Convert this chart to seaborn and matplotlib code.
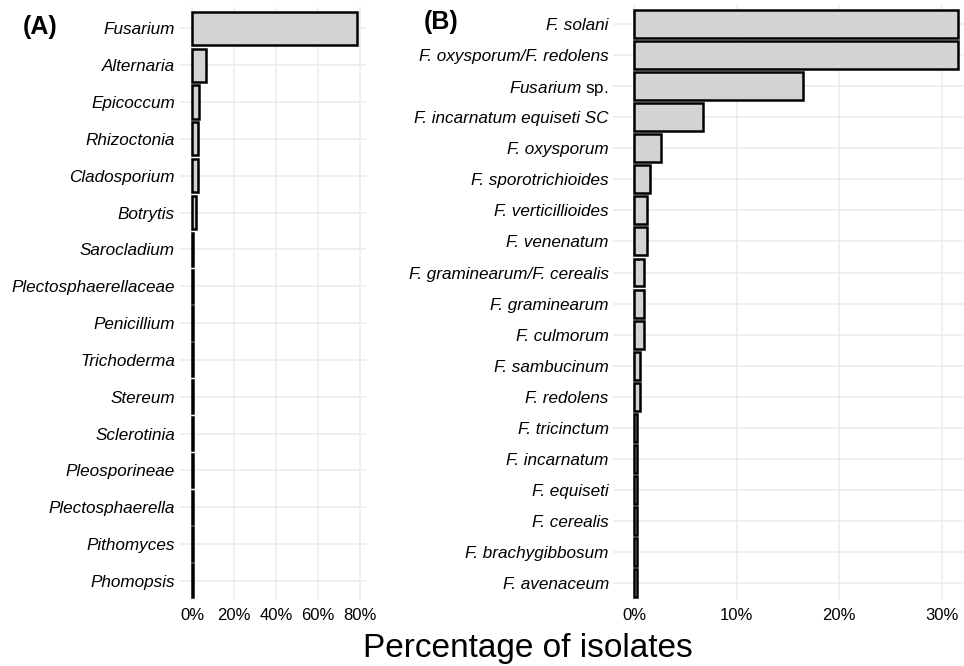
import matplotlib
matplotlib.use("Agg")
import matplotlib.pyplot as plt
import seaborn as sns
import pandas as pd
from matplotlib.ticker import FixedLocator, FixedFormatter

# ---- data ----
genera = ["Fusarium", "Alternaria", "Epicoccum", "Rhizoctonia", "Cladosporium",
          "Botrytis", "Sarocladium", "Plectosphaerellaceae", "Penicillium",
          "Trichoderma", "Stereum", "Sclerotinia", "Pleosporineae",
          "Plectosphaerella", "Pithomyces", "Phomopsis"]
genera_pct = [78.6, 6.7, 3.2, 3.0, 3.0, 1.8, 0.37, 0.37, 0.37, 0.37,
              0.37, 0.37, 0.37, 0.37, 0.37, 0.37]

species = ["F. solani", "F. oxysporum/F. redolens", "Fusarium sp.",
           "F. incarnatum equiseti SC", "F. oxysporum", "F. sporotrichioides",
           "F. verticillioides", "F. venenatum", "F. graminearum/F. cerealis",
           "F. graminearum", "F. culmorum", "F. sambucinum", "F. redolens",
           "F. tricinctum", "F. incarnatum", "F. equiseti", "F. cerealis",
           "F. brachygibbosum", "F. avenaceum"]
species_pct = [31.6, 31.6, 16.5, 6.7, 2.6, 1.6, 1.3, 1.3, 0.95, 0.95, 0.95,
               0.63, 0.63, 0.32, 0.32, 0.32, 0.32, 0.32, 0.32]

ticks_a = [0, 20, 40, 60, 80]
ticks_b = [0, 10, 20, 30]
xlabel = "Percentage of isolates"

# ---- style ----
sns.set_style("white")
plt.rcParams["font.family"] = ["Liberation Sans", "DejaVu Sans"]
plt.rcParams["mathtext.fontset"] = "custom"
plt.rcParams["mathtext.rm"] = "Liberation Sans"
plt.rcParams["mathtext.it"] = "Liberation Sans:italic"
plt.rcParams["text.color"] = "black"
plt.rcParams["xtick.color"] = "black"
plt.rcParams["ytick.color"] = "black"
plt.rcParams["axes.labelcolor"] = "black"

W, H = 964, 666
fig = plt.figure(figsize=(W / 100, H / 100), dpi=100)

def px_axes(left, right, top, bottom):
    return fig.add_axes([left / W, 1 - bottom / H, (right - left) / W, (bottom - top) / H])

ax_a = px_axes(179, 366, 7, 600)
ax_b = px_axes(613, 964, 5, 600)

df_a = pd.DataFrame({"cat": genera, "pct": genera_pct})
df_b = pd.DataFrame({"cat": species, "pct": species_pct})

bar_kw = dict(color="#D3D3D3", edgecolor="black", linewidth=1.8, width=0.9,
              saturation=1, orient="h", zorder=3)
sns.barplot(data=df_a, x="pct", y="cat", ax=ax_a, **bar_kw)
sns.barplot(data=df_b, x="pct", y="cat", ax=ax_b, **bar_kw)

def style(ax, cats, ticks, xlim, ylim):
    ax.set_xlim(*xlim)
    ax.set_ylim(*ylim)
    ax.xaxis.set_major_locator(FixedLocator(ticks))
    ax.xaxis.set_major_formatter(FixedFormatter([f"{t}%" for t in ticks]))
    ax.set_xlabel("")
    ax.set_ylabel("")
    for s in ax.spines.values():
        s.set_visible(False)
    ax.grid(True, color="#EBEBEB", linewidth=1.1, zorder=0)
    ax.set_axisbelow(True)
    ax.tick_params(axis="both", length=0, colors="black")
    ax.tick_params(axis="x", labelsize=12, pad=6)
    ax.tick_params(axis="y", labelsize=12.3, pad=3)
    labels = []
    for c in cats:
        if c == "Fusarium sp.":
            labels.append(r"$\mathit{Fusarium}$ sp.")
        else:
            labels.append(c)
    ax.set_yticks(range(len(cats)))
    ax.set_yticklabels(labels)
    for lab, c in zip(ax.get_yticklabels(), cats):
        lab.set_fontstyle("normal" if c == "Fusarium sp." else "italic")
        lab.set_color("black")

style(ax_a, genera, ticks_a, (-6.18, 82.7), (15.52, -0.58))
style(ax_b, species, ticks_b, (-2.05, 32.16), (18.54, -0.61))

fig.text(22.5 / W, 1 - 27 / H, "(A)", fontsize=18, fontweight="bold",
         ha="left", va="center", color="black")
fig.text(424 / W, 1 - 22 / H, "(B)", fontsize=18, fontweight="bold",
         ha="left", va="center", color="black")
fig.text(527.5 / W, (H - 657) / H, xlabel, fontsize=24, ha="center",
         va="baseline", color="black")

fig.savefig("out.png", dpi=100)
